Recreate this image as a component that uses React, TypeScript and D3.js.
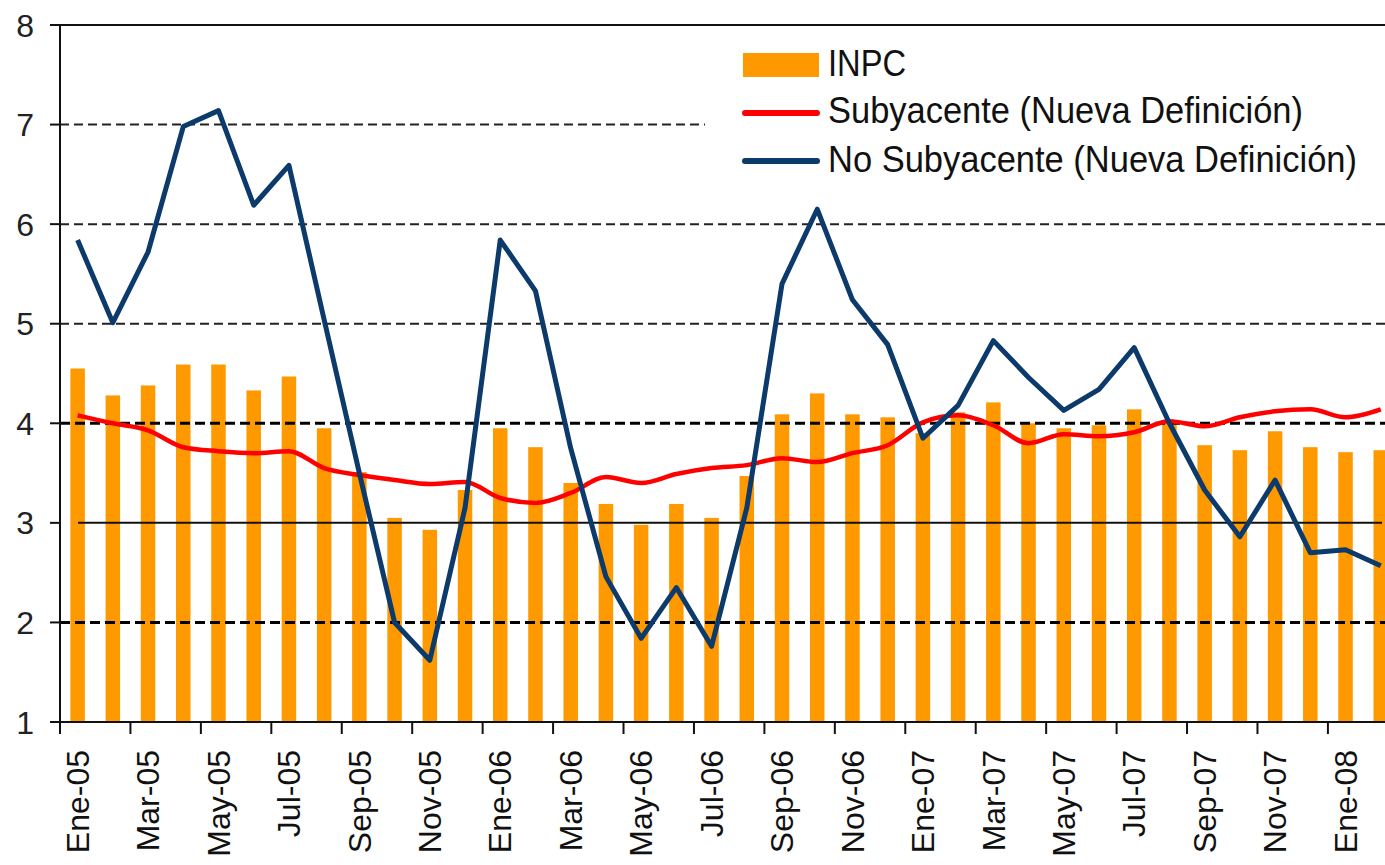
import React from "react";
import * as d3 from "d3";

const months = [
  "Ene-05","Feb-05","Mar-05","Abr-05","May-05","Jun-05","Jul-05","Ago-05","Sep-05","Oct-05","Nov-05","Dic-05",
  "Ene-06","Feb-06","Mar-06","Abr-06","May-06","Jun-06","Jul-06","Ago-06","Sep-06","Oct-06","Nov-06","Dic-06",
  "Ene-07","Feb-07","Mar-07","Abr-07","May-07","Jun-07","Jul-07","Ago-07","Sep-07","Oct-07","Nov-07","Dic-07",
  "Ene-08","Feb-08",
];

const inpc = [
  4.55, 4.28, 4.38, 4.59, 4.59, 4.33, 4.47, 3.95, 3.51, 3.05, 2.93, 3.33,
  3.95, 3.76, 3.40, 3.19, 2.98, 3.19, 3.05, 3.47, 4.09, 4.30, 4.09, 4.06,
  3.90, 4.11, 4.21, 4.00, 3.95, 3.98, 4.14, 4.01, 3.78, 3.73, 3.92, 3.76,
  3.71, 3.73,
];

const subyacente = [
  4.08, 4.00, 3.93, 3.76, 3.72, 3.70, 3.72, 3.55, 3.48, 3.43, 3.39, 3.41,
  3.25, 3.20, 3.30, 3.46, 3.40, 3.49, 3.55, 3.58, 3.65, 3.61, 3.70, 3.78,
  4.01, 4.08, 3.98, 3.80, 3.89, 3.87, 3.91, 4.02, 3.97, 4.06, 4.12, 4.14,
  4.06, 4.14,
];

const noSubyacente = [
  5.84, 5.01, 5.72, 6.98, 7.14, 6.19, 6.59, 5.04, 3.50, 2.00, 1.62, 3.15,
  5.84, 5.33, 3.75, 2.46, 1.84, 2.35, 1.76, 3.15, 5.40, 6.15, 5.24, 4.79,
  3.85, 4.18, 4.83, 4.46, 4.13, 4.34, 4.76, 4.00, 3.33, 2.86, 3.43, 2.70,
  2.73, 2.57,
];

const yTicks = [1, 2, 3, 4, 5, 6, 7, 8];
const legendLabels = ["INPC", "Subyacente (Nueva Definición)", "No Subyacente (Nueva Definición)"];

const W = 1385;
const H = 865;
const X0 = 60;
const STEP = 35.22;
const X1 = X0 + STEP * months.length;
const FONT = "'Liberation Sans', Arial, Helvetica, sans-serif";

const ORANGE = "#ff9900";
const RED = "#ff0000";
const BLUE = "#0c3a6b";

export default function App() {
  const x = d3.scaleBand<string>().domain(months).range([X0, X1]).paddingInner(0).paddingOuter(0);
  const y = d3.scaleLinear().domain([1, 8]).range([722, 25]);
  const bw = 14.5;
  const cx = (m: string) => (x(m) as number) + x.bandwidth() / 2;

  const redLine = d3
    .line<number>()
    .x((_, i) => cx(months[i]))
    .y((d) => y(d))
    .curve(d3.curveMonotoneX);
  const blueLine = d3
    .line<number>()
    .x((_, i) => cx(months[i]))
    .y((d) => y(d));

  const labelled = months.filter((_, i) => i % 2 === 0);

  const grid = (v: number) => {
    const yy = y(v);
    if (v === 8 || v === 1) return null;
    if (v === 3)
      return <line key={v} x1={78} x2={1382} y1={yy} y2={yy} stroke="#111" strokeWidth={2} />;
    if (v === 4 || v === 2)
      return (
        <line key={v} x1={X0} x2={W} y1={yy} y2={yy} stroke="#000" strokeWidth={3} strokeDasharray="10,5" />
      );
    return (
      <line
        key={v}
        x1={X0}
        x2={v === 7 ? 705 : W}
        y1={yy}
        y2={yy}
        stroke="#222"
        strokeWidth={2}
        strokeDasharray="9,5"
      />
    );
  };

  return (
    <svg
      width={W}
      height={H}
      style={{ position: "absolute", left: 0, top: 0, background: "#fff" }}
      fontFamily={FONT}
    >
      <rect x={0} y={0} width={W} height={H} fill="#fff" />
      {inpc.map((v, i) => (
        <rect
          key={months[i]}
          x={cx(months[i]) - bw / 2}
          y={y(v)}
          width={bw}
          height={y(1) - y(v)}
          fill={ORANGE}
        />
      ))}
      {yTicks.map(grid)}
      <line x1={50} x2={W} y1={y(8)} y2={y(8)} stroke="#111" strokeWidth={2} />
      <line x1={50} x2={W} y1={y(1)} y2={y(1)} stroke="#111" strokeWidth={2} />
      <line x1={X0} x2={X0} y1={y(8)} y2={y(1) + 12} stroke="#111" strokeWidth={2} />
      {yTicks.map((t) => (
        <g key={"yt" + t}>
          <line x1={50} x2={X0} y1={y(t)} y2={y(t)} stroke="#111" strokeWidth={2} />
          <text x={34} y={y(t)} dy="0.36em" textAnchor="end" fontSize={32} fill="#222">
            {t}
          </text>
        </g>
      ))}
      {labelled.map((m) => (
        <line
          key={"xt" + m}
          x1={x(m) as number}
          x2={x(m) as number}
          y1={y(1)}
          y2={y(1) + 12}
          stroke="#111"
          strokeWidth={2}
        />
      ))}
      {labelled.map((m) => (
        <text
          key={"xl" + m}
          transform={`translate(${cx(m)},750) rotate(-90)`}
          dy="0.35em"
          textAnchor="end"
          fontSize={32}
          fill="#111"
        >
          {m}
        </text>
      ))}
      <path d={redLine(subyacente) || ""} fill="none" stroke={RED} strokeWidth={4.5} strokeLinejoin="round" />
      <path d={blueLine(noSubyacente) || ""} fill="none" stroke={BLUE} strokeWidth={5} strokeLinejoin="round" />
      <rect x={743} y={53} width={76} height={24} fill={ORANGE} />
      <line x1={745} x2={817} y1={113} y2={113} stroke={RED} strokeWidth={6} strokeLinecap="round" />
      <line x1={745} x2={817} y1={161} y2={161} stroke={BLUE} strokeWidth={6} strokeLinecap="round" />
      <text x={828} y={76} fontSize={36} fill="#111" textLength={78} lengthAdjust="spacingAndGlyphs">
        {legendLabels[0]}
      </text>
      <text x={828} y={123} fontSize={36} fill="#111" textLength={475} lengthAdjust="spacingAndGlyphs">
        {legendLabels[1]}
      </text>
      <text x={828} y={172} fontSize={36} fill="#111" textLength={529} lengthAdjust="spacingAndGlyphs">
        {legendLabels[2]}
      </text>
    </svg>
  );
}
